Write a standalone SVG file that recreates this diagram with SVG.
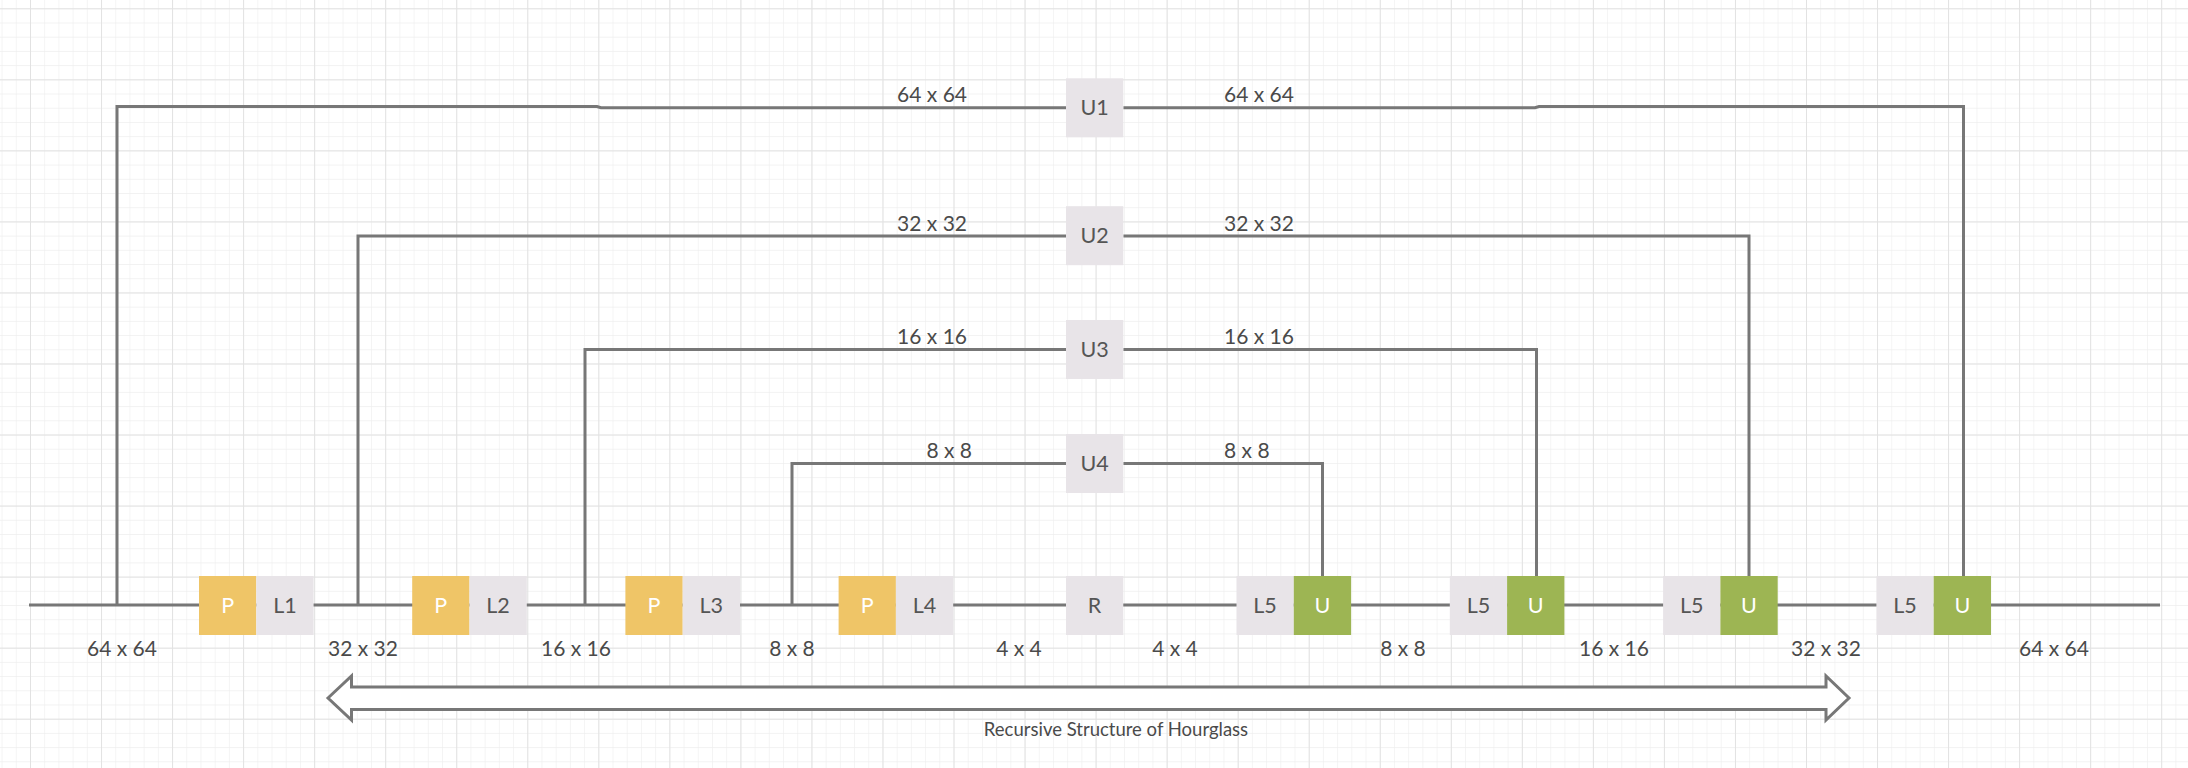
<svg xmlns="http://www.w3.org/2000/svg" width="2188" height="768" viewBox="0 0 2188 768">
  <defs>
    <pattern id="minor" patternUnits="userSpaceOnUse" x="30" y="8.3" width="14.208" height="14.208">
      <path d="M0 0 H14.208 M0 0 V14.208" fill="none" stroke="#eeeeee" stroke-width="1.2"/>
    </pattern>
    <pattern id="major" patternUnits="userSpaceOnUse" x="30" y="8.3" width="71.04" height="71.04">
      <path d="M0 0 H71.04 M0 0 V71.04" fill="none" stroke="#e2e2e2" stroke-width="2"/>
    </pattern>
    <style>
      .wire { fill: none; stroke: #777777; stroke-width: 3; }
      .p { fill: #efc567; }
      .l { fill: #e8e4e8; }
      .u { fill: #9db553; }
      .bt { font-family: Lato, "Liberation Sans", sans-serif; font-size: 21.5px; text-anchor: middle; }
      .dark { fill: #555555; }
      .white { fill: #ffffff; }
      .lbl { font-family: Lato, "Liberation Sans", sans-serif; font-size: 21px; fill: #4a4a4a; }
      .mid { text-anchor: middle; }
      .end { text-anchor: end; }
      .title { font-family: Lato, "Liberation Sans", sans-serif; font-size: 18.5px; fill: #4a4a4a; text-anchor: middle; }
    </style>
  </defs>

  <rect x="0" y="0" width="2188" height="768" fill="#ffffff"/>
  <rect x="0" y="0" width="2188" height="768" fill="url(#minor)"/>
  <rect x="0" y="0" width="2188" height="768" fill="url(#major)"/>

  <g id="connectors">
    <path class="wire" d="M29 605 H2160"/>
    <path class="wire" d="M117 605 V106.5 H597 L601 107.8 H1066"/>
    <path class="wire" d="M1123.3 107.8 H1535 L1539 106.5 H1963.5 V576"/>
    <path class="wire" d="M358 605 V236 H1066"/>
    <path class="wire" d="M1123.3 236 H1749 V576"/>
    <path class="wire" d="M585 605 V349.5 H1066"/>
    <path class="wire" d="M1123.3 349.5 H1536.5 V576"/>
    <path class="wire" d="M792 605 V463.5 H1066"/>
    <path class="wire" d="M1123.3 463.5 H1322.5 V576"/>
  </g>

  <g id="arrow">
    <polygon points="328,698 351.5,676 351.5,687 1826,687 1826,676 1849,698 1826,720 1826,709.5 351.5,709.5 351.5,720" fill="#ffffff" stroke="#777777" stroke-width="3" stroke-linejoin="miter"/>
  </g>

  <g id="P1"><rect class="p" x="199" y="576" width="57.3" height="59"/><text class="bt white" x="227.6" y="613">P</text></g>
  <g id="L1"><rect class="l" x="256.3" y="576" width="57.3" height="59"/><text class="bt dark" x="284.9" y="613">L1</text></g>
  <g id="P2"><rect class="p" x="412.2" y="576" width="57.3" height="59"/><text class="bt white" x="440.8" y="613">P</text></g>
  <g id="L2"><rect class="l" x="469.5" y="576" width="57.3" height="59"/><text class="bt dark" x="498.1" y="613">L2</text></g>
  <g id="P3"><rect class="p" x="625.4" y="576" width="57.3" height="59"/><text class="bt white" x="654" y="613">P</text></g>
  <g id="L3"><rect class="l" x="682.7" y="576" width="57.3" height="59"/><text class="bt dark" x="711.3" y="613">L3</text></g>
  <g id="P4"><rect class="p" x="838.6" y="576" width="57.3" height="59"/><text class="bt white" x="867.2" y="613">P</text></g>
  <g id="L4"><rect class="l" x="895.9" y="576" width="57.3" height="59"/><text class="bt dark" x="924.5" y="613">L4</text></g>
  <g id="R"><rect class="l" x="1066" y="576" width="57.3" height="59"/><text class="bt dark" x="1094.6" y="613">R</text></g>
  <g id="L5a"><rect class="l" x="1236.5" y="576" width="57.3" height="59"/><text class="bt dark" x="1265.1" y="613">L5</text></g>
  <g id="Ua"><rect class="u" x="1293.8" y="576" width="57.3" height="59"/><text class="bt white" x="1322.4" y="613">U</text></g>
  <g id="L5b"><rect class="l" x="1449.8" y="576" width="57.3" height="59"/><text class="bt dark" x="1478.4" y="613">L5</text></g>
  <g id="Ub"><rect class="u" x="1507.1" y="576" width="57.3" height="59"/><text class="bt white" x="1535.7" y="613">U</text></g>
  <g id="L5c"><rect class="l" x="1663.1" y="576" width="57.3" height="59"/><text class="bt dark" x="1691.7" y="613">L5</text></g>
  <g id="Uc"><rect class="u" x="1720.4" y="576" width="57.3" height="59"/><text class="bt white" x="1749" y="613">U</text></g>
  <g id="L5d"><rect class="l" x="1876.4" y="576" width="57.3" height="59"/><text class="bt dark" x="1905" y="613">L5</text></g>
  <g id="Ud"><rect class="u" x="1933.7" y="576" width="57.3" height="59"/><text class="bt white" x="1962.3" y="613">U</text></g>

  <g id="U1"><rect class="l" x="1066" y="78.3" width="57.3" height="59"/><text class="bt dark" x="1094.6" y="115.3">U1</text></g>
  <g id="U2"><rect class="l" x="1066" y="206.2" width="57.3" height="59"/><text class="bt dark" x="1094.6" y="243.2">U2</text></g>
  <g id="U3"><rect class="l" x="1066" y="320" width="57.3" height="59"/><text class="bt dark" x="1094.6" y="357">U3</text></g>
  <g id="U4"><rect class="l" x="1066" y="434" width="57.3" height="59"/><text class="bt dark" x="1094.6" y="471">U4</text></g>

  <g id="labels-top">
    <text class="lbl end" x="967" y="102">64 x 64</text>
    <text class="lbl" x="1224" y="102">64 x 64</text>
    <text class="lbl end" x="967" y="230.5">32 x 32</text>
    <text class="lbl" x="1224" y="230.5">32 x 32</text>
    <text class="lbl end" x="967" y="344">16 x 16</text>
    <text class="lbl" x="1224" y="344">16 x 16</text>
    <text class="lbl end" x="972" y="458">8 x 8</text>
    <text class="lbl" x="1224" y="458">8 x 8</text>
  </g>

  <g id="labels-bottom">
    <text class="lbl mid" x="122" y="656">64 x 64</text>
    <text class="lbl mid" x="363" y="656">32 x 32</text>
    <text class="lbl mid" x="576" y="656">16 x 16</text>
    <text class="lbl mid" x="792" y="656">8 x 8</text>
    <text class="lbl mid" x="1019" y="656">4 x 4</text>
    <text class="lbl mid" x="1175" y="656">4 x 4</text>
    <text class="lbl mid" x="1403" y="656">8 x 8</text>
    <text class="lbl mid" x="1614" y="656">16 x 16</text>
    <text class="lbl mid" x="1826" y="656">32 x 32</text>
    <text class="lbl mid" x="2054" y="656">64 x 64</text>
  </g>

  <text class="title" x="1116" y="736">Recursive Structure of Hourglass</text>
</svg>
